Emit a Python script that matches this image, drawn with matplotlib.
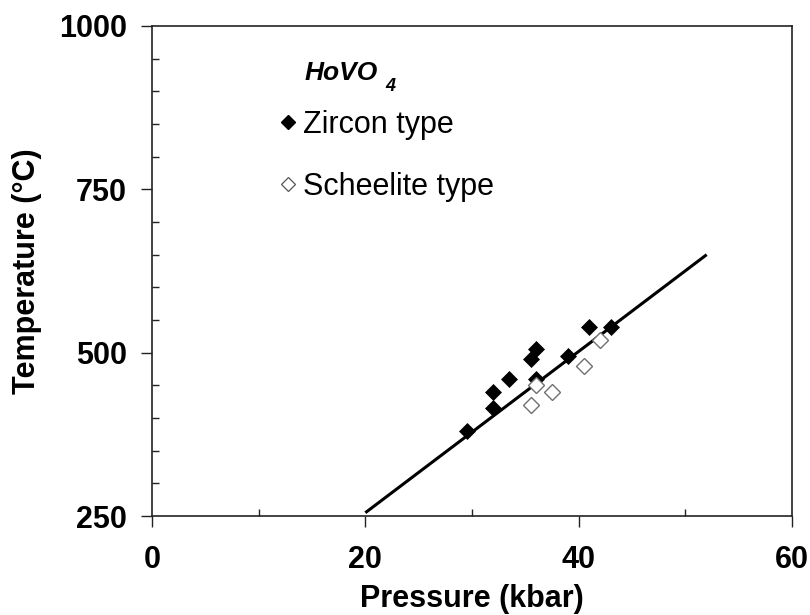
import matplotlib
matplotlib.use("Agg")
import matplotlib.pyplot as plt
from matplotlib.ticker import MultipleLocator
from matplotlib.lines import Line2D

# Data
zircon_p = [29.5, 32.0, 32.0, 33.5, 36.0, 35.5, 36.0, 39.0, 41.0, 43.0]
zircon_t = [380, 415, 440, 460, 460, 490, 505, 495, 540, 540]
scheelite_p = [36.0, 35.5, 37.5, 40.5, 42.0]
scheelite_t = [450, 420, 440, 480, 520]
line_p = [20, 52]
line_t = [255, 650]

x_ticks = [0, 20, 40, 60]
y_ticks = [250, 500, 750, 1000]

plt.rcParams['font.family'] = ['Liberation Sans', 'DejaVu Sans']

fig = plt.figure(figsize=(8.1, 6.15), dpi=100)
ax = fig.add_axes([152/810, 1-516/615, (792-152)/810, (516-26)/615])

ax.plot(line_p, line_t, color='black', lw=2.2, solid_capstyle='butt', zorder=2)
ax.plot(zircon_p, zircon_t, linestyle='none', marker='D', ms=8.5,
        mfc='black', mec='black', mew=0.5, zorder=3)
ax.plot(scheelite_p, scheelite_t, linestyle='none', marker='D', ms=8.5,
        mfc='white', mec='#707070', mew=1.0, zorder=4)

ax.set_xlim(0, 60)
ax.set_ylim(250, 1000)
ax.set_xticks(x_ticks)
ax.set_yticks(y_ticks)
ax.xaxis.set_minor_locator(MultipleLocator(10))
ax.yaxis.set_minor_locator(MultipleLocator(50))

for s in ax.spines.values():
    s.set_color('#222222')
    s.set_linewidth(1.2)

ax.tick_params(axis='both', which='major', direction='out', length=8,
               width=1.0, color='#222222', labelsize=22)
ax.tick_params(axis='x', which='major', pad=13)
ax.tick_params(axis='y', which='major', pad=10)
ax.tick_params(axis='both', which='minor', direction='in', length=5,
               width=1.0, color='#222222')
for lab in ax.get_xticklabels() + ax.get_yticklabels():
    lab.set_fontweight('bold')

ax.set_xlabel('Pressure (kbar)', fontsize=22, fontweight='bold', labelpad=6)
ax.set_ylabel('Temperature (°C)', fontsize=22, fontweight='bold', labelpad=12)

# Compound name with subscript
t1 = ax.text(305/810, 1-80/615, 'HoVO', transform=fig.transFigure,
             fontsize=19, fontweight='bold', fontstyle='italic',
             ha='left', va='baseline')
ax.annotate('4', xy=(1, 0), xycoords=t1, xytext=(5, -4),
            textcoords='offset points', fontsize=13, fontweight='bold',
            fontstyle='italic', ha='left', va='baseline')

handles = [
    Line2D([], [], linestyle='none', marker='D', ms=7, mfc='black', mec='black'),
    Line2D([], [], linestyle='none', marker='D', ms=7, mfc='white', mec='#555555', mew=0.9),
]
leg = ax.legend(handles, ['Zircon type', 'Scheelite type'], loc='upper left',
                bbox_to_anchor=(279/810, 1-110/615), bbox_transform=fig.transFigure,
                frameon=False, fontsize=22, handlelength=0.6, handletextpad=0.2,
                labelspacing=1.05, borderpad=0, borderaxespad=0)

fig.savefig('out.png', dpi=100)
